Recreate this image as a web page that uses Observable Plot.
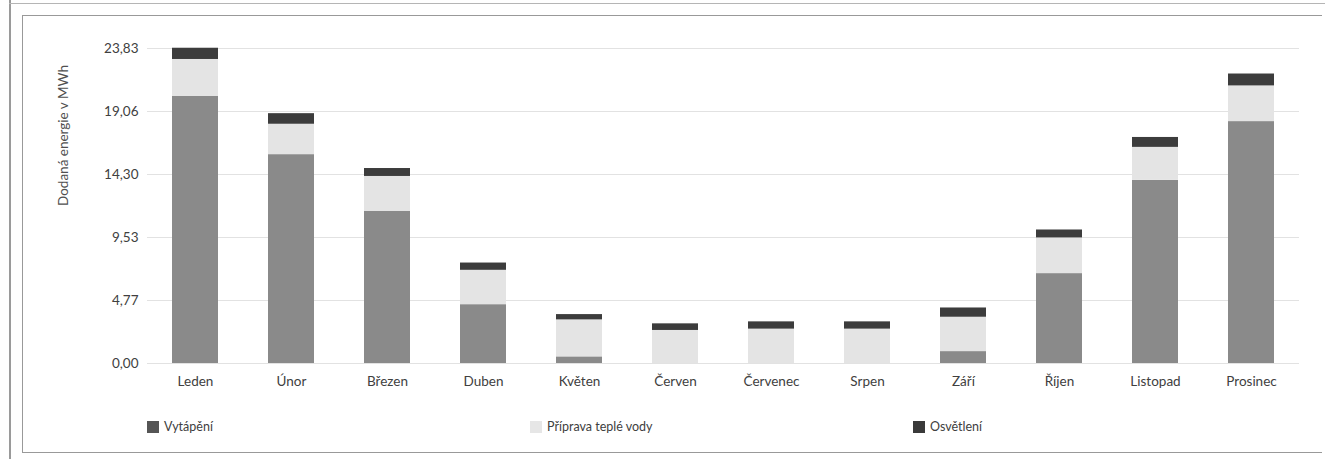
<!DOCTYPE html>
<html>
<head>
<meta charset="utf-8">
<script src="https://cdn.jsdelivr.net/npm/d3@7"></script>
<script src="https://cdn.jsdelivr.net/npm/@observablehq/plot@0.6"></script>
<style>
  html, body { margin: 0; padding: 0; background: #fff; }
  #wrap { position: relative; width: 1325px; height: 459px; overflow: hidden; font-family: Lato, "Open Sans", sans-serif; color: #404040; }
  #outerline { position: absolute; left: 9px; top: 0; width: 2px; height: 459px; background: #9a9a9a; }
  #topline { position: absolute; left: 9px; top: 3px; width: 1316px; height: 1px; background: #b5b5b5; }
  #frame { position: absolute; left: 22px; top: 15px; width: 1300px; height: 438px; border: 1px solid #999; border-right: none; box-sizing: border-box; }
  #chart { position: absolute; left: 0; top: 0; }
  .leg { position: absolute; top: 419px; font-size: 12.5px; display: flex; align-items: center; color: #404040; }
  .sw { width: 12px; height: 12px; margin-right: 5px; display: inline-block; }
</style>
</head>
<body>
<div id="wrap">
  <div id="outerline"></div>
  <div id="topline"></div>
  <div id="frame"></div>
  <div id="chart"></div>
  <div class="leg" style="left:147px"><span class="sw" style="background:#555"></span>Vytápění</div>
  <div class="leg" style="left:530px"><span class="sw" style="background:#e6e6e6"></span>Příprava teplé vody</div>
  <div class="leg" style="left:913px"><span class="sw" style="background:#3a3a3a"></span>Osvětlení</div>
</div>
<script>
const months = ["Leden","Únor","Březen","Duben","Květen","Červen","Červenec","Srpen","Září","Říjen","Listopad","Prosinec"];
const heating = [20.2, 15.8, 11.5, 4.45, 0.5, 0, 0, 0, 0.9, 6.8, 13.85, 18.3];
const water   = [2.8, 2.3, 2.65, 2.6, 2.8, 2.5, 2.6, 2.6, 2.6, 2.7, 2.5, 2.7];
const lighting= [0.85, 0.8, 0.6, 0.55, 0.4, 0.5, 0.55, 0.55, 0.7, 0.6, 0.75, 0.9];
const series = ["Vytápění","Příprava teplé vody","Osvětlení"];
const colors = ["#8a8a8a","#e4e4e4","#3c3c3c"];
const yTicks = [0, 4.766, 9.532, 14.298, 19.064, 23.83];

const data = [];
months.forEach((m, i) => {
  data.push({month: m, series: series[0], value: heating[i]});
  data.push({month: m, series: series[1], value: water[i]});
  data.push({month: m, series: series[2], value: lighting[i]});
});

const fmt = v => v.toFixed(2).replace(".", ",");

const chart = Plot.plot({
  width: 1325,
  height: 400,
  marginLeft: 147,
  marginRight: 26,
  marginTop: 48,
  marginBottom: 37,
  style: {fontFamily: "Lato, 'Open Sans', sans-serif", fontSize: "13.5px", color: "#404040", background: "transparent"},
  x: {domain: months, paddingInner: 0.52, paddingOuter: 0.26, label: null},
  y: {domain: [0, 23.83], label: null},
  color: {domain: series, range: colors},
  marks: [
    Plot.ruleY(yTicks, {stroke: "#e2e2e2", strokeWidth: 1}),
    Plot.barY(data, {x: "month", y: "value", fill: "series", order: series, inset: 0}),
    Plot.axisY({ticks: yTicks, tickFormat: fmt, tickSize: 0, tickPadding: 9, label: null, fill: "#404040"}),
    Plot.axisX({tickSize: 0, tickPadding: 13, label: null, fill: "#404040"}),
    Plot.text(["Dodaná energie v MWh"], {frameAnchor: "left", dx: -84, rotate: -90, fill: "#505050", fontSize: 13.5})
  ]
});
document.getElementById("chart").appendChild(chart);
</script>
</body>
</html>
